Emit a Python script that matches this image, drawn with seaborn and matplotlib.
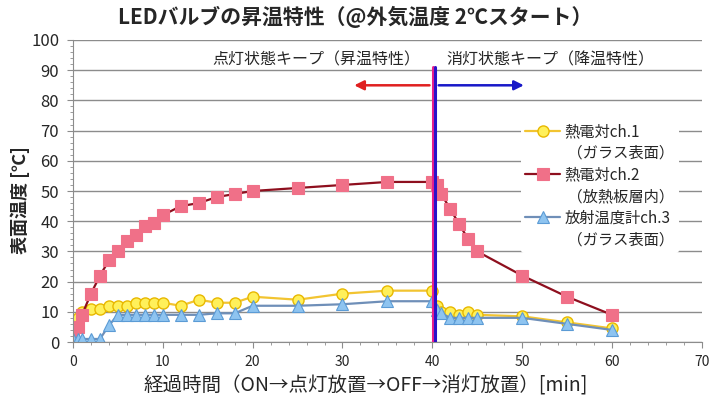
import numpy as np
import pandas as pd
import matplotlib
matplotlib.use("Agg")
import matplotlib.pyplot as plt
from matplotlib.lines import Line2D
from matplotlib.ticker import MultipleLocator
import seaborn as sns

# elapsed time [min]
time_min = [0, 0.5, 1, 2, 3, 4, 5, 6, 7, 8, 9, 10, 12, 14, 16, 18, 20, 25, 30, 35,
            40, 40.5, 41, 42, 43, 44, 45, 50, 55, 60]
# thermocouple ch.1 (glass surface)
ch1_temp = [7, 8, 10, 11, 11, 12, 12, 12, 13, 13, 13, 13, 12, 14, 13, 13, 15, 14, 16, 17,
            17, 12, 10, 10, 9, 10, 9, 8.5, 6.5, 4.5]
# thermocouple ch.2 (inside heat sink)
ch2_temp = [2, 5, 9, 16, 22, 27, 30, 33.5, 35.5, 38.5, 39.5, 42, 45, 46, 48, 49, 50, 51, 52, 53,
            53, 52, 49, 44, 39, 34, 30, 22, 15, 9]
# radiation thermometer ch.3 (glass surface)
ch3_temp = [1, 1, 1, 1, 1, 5.5, 9, 9, 9, 9, 9, 9, 9, 9, 9.5, 9.5, 12, 12, 12.5, 13.5,
            13.5, 10.5, 9.5, 8, 8, 8, 8, 8, 6, 4]

legend_lines = ["熱電対ch.1", " （ガラス表面）", "熱電対ch.2", " （放熱板層内）",
                "放射温度計ch.3", " （ガラス表面）"]

switch_off = 40.2

sns.set_style("white")
plt.rcParams["font.family"] = ["Noto Sans CJK JP", "DejaVu Sans"]

df = pd.DataFrame({"t": time_min, "ch1": ch1_temp, "ch2": ch2_temp, "ch3": ch3_temp})

fig = plt.figure(figsize=(7.11, 3.98), dpi=100)
ax = fig.add_axes([0.1027, 0.1407, 0.8843, 0.7588])

sns.lineplot(data=df, x="t", y="ch1", ax=ax, errorbar=None, color="#F2C431", lw=1.6,
             marker="o", markersize=8, markerfacecolor="#FFF05A", markeredgecolor="#E8B800",
             markeredgewidth=1.0)
sns.lineplot(data=df, x="t", y="ch2", ax=ax, errorbar=None, color="#8E0F1E", lw=1.6,
             marker="s", markersize=8.5, markerfacecolor="#F07088", markeredgecolor="#F07088",
             markeredgewidth=0.8)
sns.lineplot(data=df, x="t", y="ch3", ax=ax, errorbar=None, color="#6F8FB8", lw=1.6,
             marker="^", markersize=9, markerfacecolor="#8EC4F0", markeredgecolor="#5B9BD5",
             markeredgewidth=0.8)

# switch-off marker lines
ax.plot([switch_off - 0.12, switch_off - 0.12], [0, 91], color="#E8208C", lw=2.2, zorder=5)
ax.plot([switch_off + 0.12, switch_off + 0.12], [0, 91], color="#2A12C8", lw=2.2, zorder=5)

# arrows
ax.annotate("", xy=(31, 85), xytext=(switch_off - 0.2, 85),
            arrowprops=dict(arrowstyle="-|>", color="#E02020", lw=1.8, mutation_scale=14))
ax.annotate("", xy=(50.5, 85), xytext=(switch_off + 0.2, 85),
            arrowprops=dict(arrowstyle="-|>", color="#1818C8", lw=1.8, mutation_scale=14))
ax.text(38.7, 93.5, "点灯状態キープ（昇温特性）", ha="right", va="center", fontsize=11.5)
ax.text(41.6, 93.5, "消灯状態キープ（降温特性）", ha="left", va="center", fontsize=11.5)

ax.set_xlim(0, 70)
ax.set_ylim(0, 100)
ax.xaxis.set_major_locator(MultipleLocator(10))
ax.xaxis.set_minor_locator(MultipleLocator(2))
ax.yaxis.set_major_locator(MultipleLocator(10))
ax.yaxis.set_minor_locator(MultipleLocator(2))
ax.grid(True, axis="y", which="major", color="#8C8C8C", lw=1)
ax.set_axisbelow(True)
sns.despine(ax=ax, top=True, right=True)
for s in ["left", "bottom"]:
    ax.spines[s].set_color("#8C8C8C")
ax.tick_params(axis="both", which="both", direction="out", color="#8C8C8C", left=True, bottom=True)
ax.tick_params(axis="both", which="major", length=4)
ax.tick_params(axis="both", which="minor", length=2.5)
ax.tick_params(axis="y", labelsize=12, pad=6)
ax.tick_params(axis="x", labelsize=10, pad=5)

ax.set_xlabel("経過時間（ON→点灯放置→OFF→消灯放置）[min]", fontsize=14)
ax.xaxis.set_label_coords(0.466, -0.11)
ax.set_ylabel("表面温度 [℃]", fontsize=13, fontweight="bold")
ax.yaxis.set_label_coords(-0.068, 0.47)
fig.suptitle("LEDバルブの昇温特性（@外気温度 2℃スタート）", fontsize=15, fontweight="bold", y=0.985)

lines = ax.get_lines()
blank = Line2D([], [], color="none")
handles = [lines[0], blank, lines[1], blank, lines[2], blank]
leg = ax.legend(handles, legend_lines, loc="upper left", bbox_to_anchor=(0.7, 0.765),
                frameon=True, fontsize=11, handlelength=2.3, labelspacing=0.3,
                borderpad=0.3, handletextpad=0.25)
leg.get_frame().set_edgecolor("none")
leg.get_frame().set_facecolor("white")
leg.get_frame().set_alpha(1)

fig.savefig("out.png", dpi=100)
